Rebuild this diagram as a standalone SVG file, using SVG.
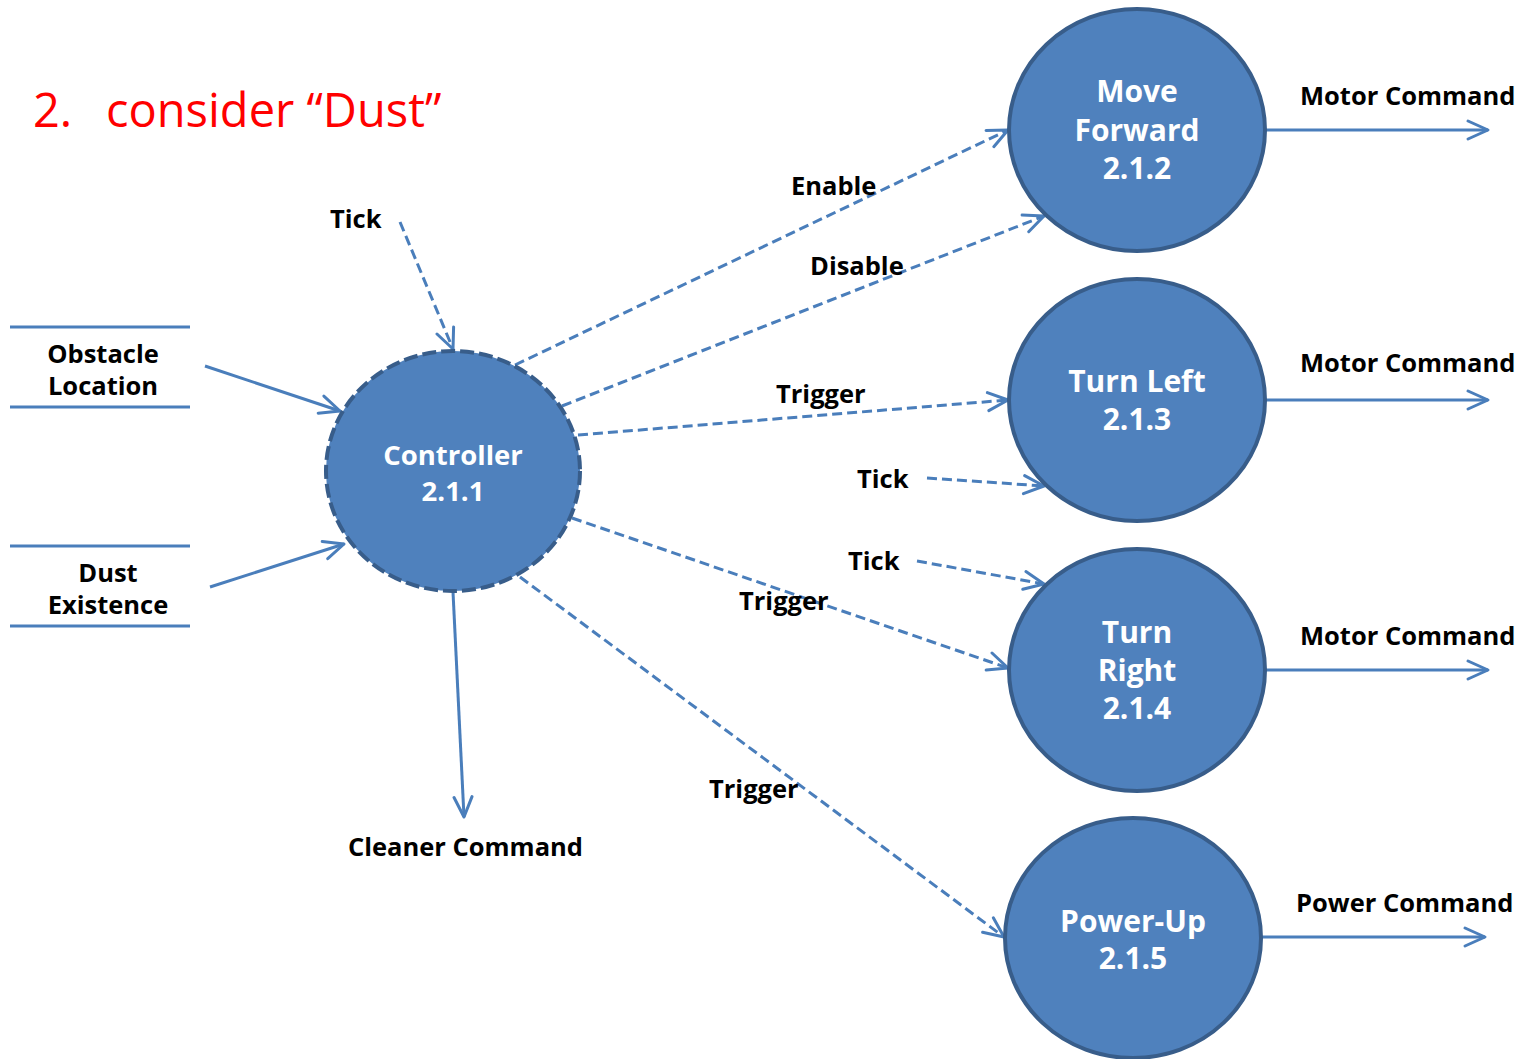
<svg xmlns="http://www.w3.org/2000/svg" width="1526" height="1059" viewBox="0 0 1526 1059">
<style>
.node{fill:#4F81BD;stroke:#385D8A;stroke-width:4}
.ntext{font-family:"Open Sans","Noto Sans",sans-serif;font-weight:bold;font-size:30px;fill:#FFFFFF;text-anchor:middle}
.ctext{font-size:27.5px}
.lbl{font-family:"Open Sans","Noto Sans",sans-serif;font-weight:bold;font-size:25.5px;fill:#000000}
.ln{fill:none;stroke:#4A7EBB;stroke-width:3}
.dash{stroke-dasharray:10 5}
.arr{marker-end:url(#ah)}
</style>
<defs>
<marker id="ah" viewBox="0 0 24 22" markerWidth="24" markerHeight="22" refX="22" refY="11" orient="auto" markerUnits="userSpaceOnUse">
<path d="M2,2 L22,11 L2,20" fill="none" stroke="#4A7EBB" stroke-width="3" stroke-linecap="round" stroke-linejoin="round"/>
</marker>
</defs>
<rect width="1526" height="1059" fill="#FFFFFF"/>
<g id="title" font-family="'Open Sans','Noto Sans',sans-serif" font-size="47" fill="#FF0000">
<text x="33" y="127">2.</text>
<text x="106" y="127">consider “Dust”</text>
</g>

<g id="stores">
<line class="ln" x1="10" y1="327" x2="190" y2="327"/>
<line class="ln" x1="10" y1="407" x2="190" y2="407"/>
<line class="ln" x1="10" y1="546" x2="190" y2="546"/>
<line class="ln" x1="10" y1="626" x2="190" y2="626"/>
<text class="lbl" x="103" y="363" text-anchor="middle">Obstacle</text>
<text class="lbl" x="103" y="395" text-anchor="middle">Location</text>
<text class="lbl" x="108" y="582" text-anchor="middle">Dust</text>
<text class="lbl" x="108" y="614" text-anchor="middle">Existence</text>
</g>

<g id="connectors">
<line class="ln dash arr" x1="400" y1="222" x2="453" y2="349"/>
<line class="ln arr" x1="205" y1="366" x2="340" y2="411"/>
<line class="ln arr" x1="210" y1="587" x2="344" y2="544"/>
<line class="ln dash arr" x1="515" y1="365" x2="1008" y2="130"/>
<line class="ln dash arr" x1="562" y1="406" x2="1044" y2="216"/>
<line class="ln dash arr" x1="578" y1="435" x2="1008" y2="400"/>
<line class="ln dash arr" x1="927" y1="478" x2="1044" y2="486"/>
<line class="ln dash arr" x1="917" y1="561" x2="1044" y2="584"/>
<line class="ln dash arr" x1="572" y1="518" x2="1008" y2="668"/>
<line class="ln dash arr" x1="520" y1="577" x2="1004" y2="937"/>
<line class="ln arr" x1="453" y1="592" x2="464" y2="817"/>
<line class="ln arr" x1="1266" y1="130" x2="1488" y2="130"/>
<line class="ln arr" x1="1266" y1="400" x2="1488" y2="400"/>
<line class="ln arr" x1="1266" y1="670" x2="1488" y2="670"/>
<line class="ln arr" x1="1262" y1="937" x2="1485" y2="937"/>
<text class="lbl" x="330" y="228">Tick</text>
<text class="lbl" x="791" y="195">Enable</text>
<text class="lbl" x="810" y="275">Disable</text>
<text class="lbl" x="776" y="403">Trigger</text>
<text class="lbl" x="857" y="488">Tick</text>
<text class="lbl" x="848" y="570">Tick</text>
<text class="lbl" x="739" y="610">Trigger</text>
<text class="lbl" x="709" y="798">Trigger</text>
<text class="lbl" x="348" y="856">Cleaner Command</text>
<text class="lbl" x="1300" y="105">Motor Command</text>
<text class="lbl" x="1300" y="372">Motor Command</text>
<text class="lbl" x="1300" y="645">Motor Command</text>
<text class="lbl" x="1296" y="912">Power Command</text>
</g>

<g id="controller">
<ellipse class="node" cx="453" cy="471" rx="127" ry="120" stroke-dasharray="14 5"/>
<text class="ntext ctext" x="453" y="465">Controller</text>
<text class="ntext ctext" x="453" y="501">2.1.1</text>
</g>
<g id="move-forward">
<ellipse class="node" cx="1137" cy="130" rx="128" ry="121"/>
<text class="ntext" x="1137" y="102">Move</text>
<text class="ntext" x="1137" y="141">Forward</text>
<text class="ntext" x="1137" y="179">2.1.2</text>
</g>
<g id="turn-left">
<ellipse class="node" cx="1137" cy="400" rx="128" ry="121"/>
<text class="ntext" x="1137" y="392">Turn Left</text>
<text class="ntext" x="1137" y="430">2.1.3</text>
</g>
<g id="turn-right">
<ellipse class="node" cx="1137" cy="670" rx="128" ry="121"/>
<text class="ntext" x="1137" y="643">Turn</text>
<text class="ntext" x="1137" y="681">Right</text>
<text class="ntext" x="1137" y="719">2.1.4</text>
</g>
<g id="power-up">
<ellipse class="node" cx="1133" cy="938" rx="128" ry="120"/>
<text class="ntext" x="1133" y="932">Power-Up</text>
<text class="ntext" x="1133" y="969">2.1.5</text>
</g>
</svg>
